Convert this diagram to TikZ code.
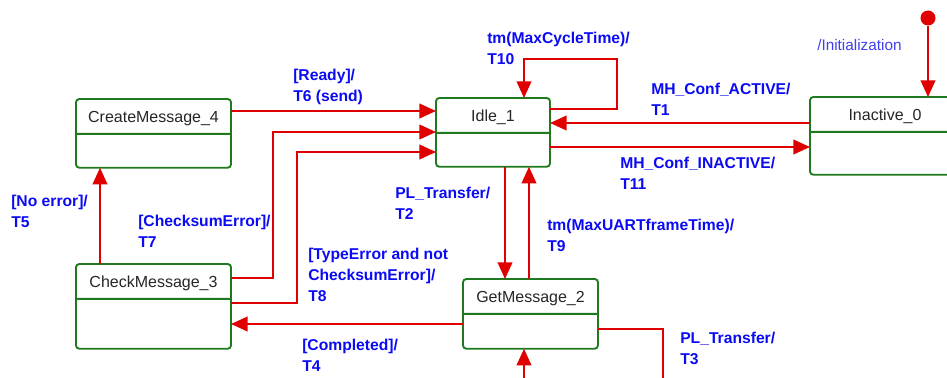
\documentclass[tikz,border=0pt]{standalone}
\usepackage{fontspec}
\setmainfont{Liberation Sans}
\usetikzlibrary{arrows.meta,shapes.multipart}
\definecolor{umlRed}{HTML}{E00000}
\definecolor{umlGreen}{HTML}{1F7A1F}
\definecolor{umlBlue}{HTML}{0A0AF5}
\definecolor{umlBlueLight}{HTML}{4040F0}
\newcommand{\namepart}{\rule[-8pt]{0pt}{24.75pt}}
\newcommand{\bodypart}[1]{\rule{0pt}{#1}}
\tikzset{
  flow/.style={-{Triangle[length=12.5pt,width=11pt]}, line width=1.5pt,
    draw=umlRed},
  state/.style={rectangle split, rectangle split parts=2, draw=umlGreen,
    line width=1.4pt, rounded corners=2.5pt, fill=white, inner xsep=0pt,
    inner ysep=0pt, outer sep=0pt, anchor=north west,
    font=\fontsize{12}{14}\selectfont, text=black!85},
  trans label/.style={anchor=north west, inner sep=0pt, align=left,
    font=\bfseries\fontsize{11.75}{15.75}\selectfont, text=umlBlue},
  init label/.style={anchor=north west, inner sep=0pt,
    font=\fontsize{11.5}{15.75}\selectfont, text=umlBlueLight},
  initial/.style={circle, fill=umlRed, minimum size=11.25pt, inner sep=0pt}
}

\begin{document}
\begin{tikzpicture}[x=0.75pt,y=-0.75pt]
  \useasboundingbox (0,0) rectangle (947,378);
  \clip (0,0) rectangle (947,378);
  % states
  \node[state, minimum width=116.25pt] (create) at (76,99)
    {\namepart CreateMessage\_4\nodepart{two}\bodypart{24pt}};
  \node[state, minimum width=85.5pt] (idle) at (436,98)
    {\namepart Idle\_1\nodepart{two}\bodypart{24pt}};
  \node[state, minimum width=112.5pt] (inactive) at (810,97)
    {\namepart Inactive\_0\nodepart{two}\bodypart{30.75pt}};
  \node[state, minimum width=116.25pt] (check) at (76,264)
    {\namepart CheckMessage\_3\nodepart{two}\bodypart{36pt}};
  \node[state, minimum width=101.25pt] (get) at (463,279)
    {\namepart GetMessage\_2\nodepart{two}\bodypart{24.75pt}};
  \node[initial] (init) at (928,18) {};
  \coordinate (loop) at (617,59);
  \coordinate (t3end) at (663,390);
  \coordinate (instart) at (524,390);
  % transitions
  \draw[flow] (init) -- (inactive.north -| init);
  \draw[flow] (create.east |- 0,111) -- (idle.west |- 0,111);
  \draw[flow] (idle.east |- 0,109) -| (loop) -| (idle.north -| 524,0);
  \draw[flow] (inactive.west |- 0,123) -- (idle.east |- 0,123);
  \draw[flow] (idle.east |- 0,147) -- (inactive.west |- 0,147);
  \draw[flow] (check.east |- 0,278) -- ++(42,0) |- (idle.west |- 0,132);
  \draw[flow] (check.east |- 0,303) -- ++(66,0) |- (idle.west |- 0,152);
  \draw[flow] (get.west |- 0,324) -- (check.east |- 0,324);
  \draw[flow] (check.north -| 100,0) -- (create.south -| 100,0);
  \draw[flow] (idle.south -| 505,0) -- (get.north -| 505,0);
  \draw[flow] (get.north -| 529,0) -- (idle.south -| 529,0);
  \draw[flow, -] (get.east |- 0,329) -| (t3end);
  \draw[flow] (instart) -- (get.south -| instart);
  % labels
  \node[init label] (lInit) at (817,39) {/Initialization};
  \node[trans label] (lT6) at (293,69) {[Ready]/\\T6 (send)};
  \node[trans label] (lT10) at (487,32) {tm(MaxCycleTime)/\\T10};
  \node[trans label] (lT1) at (651,83) {MH\_Conf\_ACTIVE/\\T1};
  \node[trans label] (lT11) at (620,157) {MH\_Conf\_INACTIVE/\\T11};
  \node[trans label] (lT5) at (11,195) {[No error]/\\T5};
  \node[trans label] (lT7) at (138,215) {[ChecksumError]/\\T7};
  \node[trans label] (lT2) at (395,187) {PL\_Transfer/\\T2};
  \node[trans label] (lT9) at (547,219) {tm(MaxUARTframeTime)/\\T9};
  \node[trans label] (lT8) at (308,248)
    {[TypeError and not\\ChecksumError]/\\T8};
  \node[trans label] (lT4) at (302,339) {[Completed]/\\T4};
  \node[trans label] (lT3) at (680,332) {PL\_Transfer/\\T3};
\end{tikzpicture}
\end{document}
